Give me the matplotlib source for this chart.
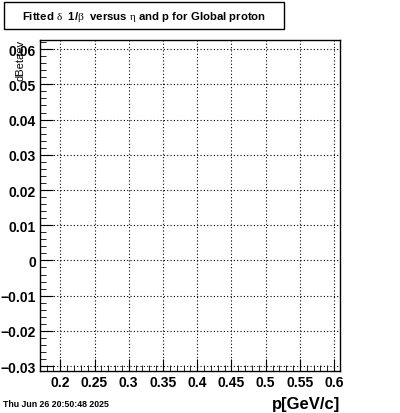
import numpy as np
import matplotlib.pyplot as plt
from matplotlib.ticker import MultipleLocator, FixedLocator
from matplotlib.patches import Rectangle

plt.rcParams['font.family'] = ['Liberation Sans', 'DejaVu Sans']
plt.rcParams['mathtext.fontset'] = 'custom'
plt.rcParams['mathtext.rm'] = 'Liberation Serif'
plt.rcParams['mathtext.it'] = 'Liberation Serif'

x_range = [0.1704, 0.6085]
y_range = [-0.0314, 0.0626]
x_ticks = [0.2, 0.25, 0.3, 0.35, 0.4, 0.45, 0.5, 0.55, 0.6]
x_labels = ['0.2', '0.25', '0.3', '0.35', '0.4', '0.45', '0.5', '0.55', '0.6']
y_ticks = [-0.03, -0.02, -0.01, 0, 0.01, 0.02, 0.03, 0.04, 0.05, 0.06]
y_labels = ['\u22120.03', '\u22120.02', '\u22120.01', '0', '0.01', '0.02', '0.03', '0.04', '0.05', '0.06']

title = r'Fitted $\mathrm{\delta}$  1/$\mathrm{\beta}$  versus $\mathrm{\eta}$ and p for Global proton'
xlabel = 'p[GeV/c]'
ylabel = 'dBetaev'
stamp = 'Thu Jun 26 20:50:48 2025'

fig = plt.figure(figsize=(4.0, 4.14), dpi=100)
ax = fig.add_axes([0.1, 0.1014, 0.75, 0.7996])
ax.set_xlim(x_range)
ax.set_ylim(y_range)

ax.xaxis.set_major_locator(FixedLocator(x_ticks))
ax.set_xticklabels(x_labels, fontweight='bold', fontsize=10)
ax.yaxis.set_major_locator(FixedLocator(y_ticks))
ax.set_yticklabels(y_labels, fontweight='bold', fontsize=10)
ax.xaxis.set_minor_locator(MultipleLocator(0.01))
ax.yaxis.set_minor_locator(MultipleLocator(0.002))

ax.tick_params(which='both', direction='in', top=False, right=False, color='black')
ax.tick_params(which='major', axis='y', length=9, pad=3)
ax.tick_params(which='minor', axis='y', length=4.5)
ax.tick_params(which='major', axis='x', length=9, pad=3)
ax.tick_params(which='minor', axis='x', length=4.5)

ax.grid(True, which='major', linestyle=(0, (1, 2)), color='black', linewidth=0.8)
for s in ax.spines.values():
    s.set_linewidth(1.0)

fig.text(340 / 400, 1 - 405 / 414, xlabel, ha='right', va='center',
         fontsize=12, fontweight='bold')
fig.text(21 / 400, 1 - 40 / 414, ylabel, ha='center', va='top',
         rotation=90, fontsize=8)

fig.text(3 / 400, 1 - 405 / 414, stamp, fontsize=6.3, fontweight='bold', ha='left', va='center')

box = Rectangle((4 / 400, 1 - 30 / 414), 280 / 400, 27 / 414, transform=fig.transFigure,
                facecolor='white', edgecolor='black', linewidth=1.0)
fig.patches.append(box)
fig.text(22 / 400, 1 - 17 / 414, title, fontsize=8.2, fontweight='bold', ha='left', va='center')

fig.savefig('out.png', dpi=100)
